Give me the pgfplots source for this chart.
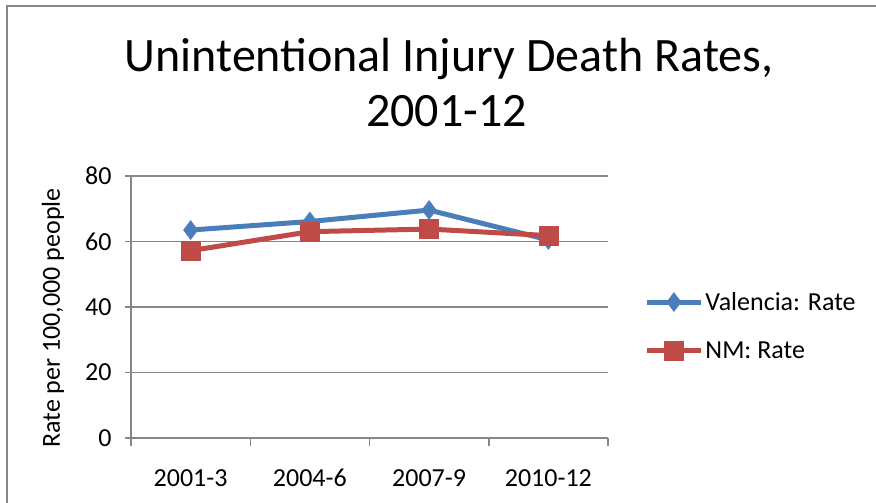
\documentclass[border=0pt]{standalone}
\usepackage{fontspec}
\setmainfont{Carlito}
\usepackage{pgfplots}
\pgfplotsset{compat=1.18}
\definecolor{vblue}{HTML}{4A7EBB}
\definecolor{nred}{HTML}{BE4B48}
\definecolor{gridgray}{HTML}{868686}
\begin{document}
\begin{tikzpicture}[x=1pt,y=1pt]
\useasboundingbox (0,0) rectangle (876,503);
\draw[gridgray, line width=1.5pt] (6.25,497) -- (876,497);
\draw[gridgray, line width=1.5pt] (7,0) -- (7,497.75);
\node[anchor=base, font=\fontsize{48}{56}\selectfont] at (449,431.3) {Unintentional Injury Death Rates,};
\node[anchor=base, font=\fontsize{48}{56}\selectfont] at (446.5,376.3) {2001-12};
\begin{axis}[
  at={(131pt,65pt)}, anchor=south west,
  scale only axis, width=477pt, height=262pt,
  xmin=-0.5, xmax=3.5, ymin=0, ymax=80,
  axis x line*=bottom, axis y line*=left,
  axis line style={gridgray, line width=1.5pt, -},
  xtick={0,1,2,3},
  xticklabels={2001-3,2004-6,2007-9,2010-12},
  minor xtick={-0.5,0.5,1.5,2.5,3.5},
  ytick={0,20,40,60,80},
  ymajorgrids,
  grid style={gridgray, line width=1.5pt},
  major grid style={gridgray, line width=1.5pt},
  tick align=outside,
  major tick length=6pt,
  minor tick length=8.5pt,
  x tick style={draw=none},
  minor x tick style={draw=gridgray, line width=1.5pt},
  y tick style={draw=gridgray, line width=1.5pt},
  tick label style={font=\fontsize{26}{31}\selectfont},
  /pgf/number format/assume math mode=true,
  xticklabel style={anchor=base, yshift=-42.7pt},
  yticklabel style={xshift=-10pt},
  ylabel={Rate per 100,000 people},
  ylabel style={font=\fontsize{26}{31}\selectfont, at={(axis description cs:-0.1635,0.458)}, anchor=center, rotate=0},
  legend style={at={(axis description cs:1.076,0.427)}, anchor=west, draw=none, fill=none,
    font=\fontsize{26}{31}\selectfont, row sep=26pt, inner sep=0pt, column sep=0pt},
  legend cell align=left,
  legend image code/.code={\draw[mark repeat=2,mark phase=2] plot coordinates {(0pt,0pt) (27pt,0pt) (54pt,0pt)};},
  clip=false,
]
\addplot[vblue, line width=5pt, mark=diamond*, mark size=9.5pt, mark options={line width=0.5pt, fill=vblue, draw=vblue}]
  coordinates {(0,63.5) (1,66.1) (2,69.6) (3,60.5)};
\addlegendentry{Valencia: Rate}
\addplot[nred, line width=5pt, mark=square*, mark size=9.5pt, mark options={line width=0.5pt, fill=nred, draw=nred}]
  coordinates {(0,57.2) (1,63.0) (2,63.8) (3,61.8)};
\addlegendentry{NM: Rate}
\end{axis}
\end{tikzpicture}
\end{document}
